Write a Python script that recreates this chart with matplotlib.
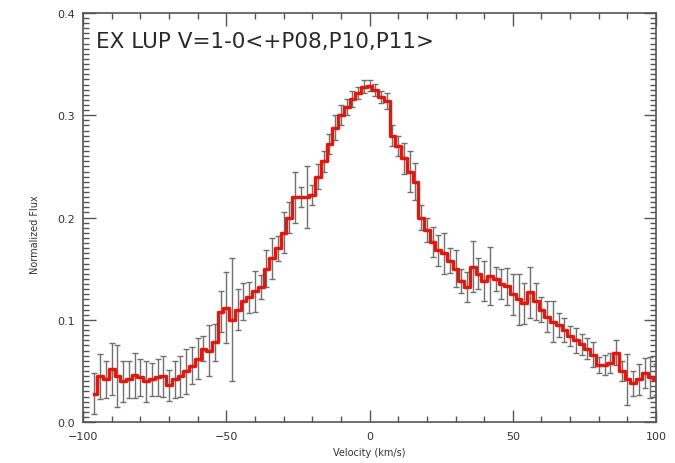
import numpy as np
import matplotlib
matplotlib.use("Agg")
import matplotlib.pyplot as plt

title = "EX LUP V=1-0<+P08,P10,P11>"
xlabel = "Velocity (km/s)"
ylabel = "Normalized Flux"
xticks = [-100, -50, 0, 50, 100]
xticklabels = ["\u2212100", "\u221250", "0", "50", "100"]
yticks = [0.0, 0.1, 0.2, 0.3, 0.4]
yticklabels = ["0.0", "0.1", "0.2", "0.3", "0.4"]

velocity = list(range(-96, 101, 2))
flux = [0.028, 0.045, 0.042, 0.052, 0.045, 0.040, 0.042, 0.046, 0.044, 0.040,
        0.042, 0.044, 0.045, 0.036, 0.042, 0.045, 0.050, 0.055, 0.062, 0.072,
        0.070, 0.078, 0.108, 0.112, 0.100, 0.110, 0.118, 0.122, 0.128, 0.132,
        0.150, 0.160, 0.170, 0.185, 0.200, 0.220, 0.220, 0.220, 0.222, 0.240,
        0.255, 0.272, 0.288, 0.300, 0.308, 0.316, 0.322, 0.328, 0.329, 0.325,
        0.318, 0.314, 0.280, 0.270, 0.258, 0.245, 0.235, 0.200, 0.188, 0.176,
        0.168, 0.165, 0.158, 0.150, 0.138, 0.132, 0.152, 0.145, 0.138, 0.143,
        0.140, 0.135, 0.133, 0.125, 0.120, 0.116, 0.127, 0.118, 0.110, 0.103,
        0.098, 0.095, 0.090, 0.084, 0.080, 0.076, 0.072, 0.066, 0.056, 0.056,
        0.058, 0.068, 0.050, 0.042, 0.038, 0.042, 0.048, 0.044, 0.042]
error = [0.020, 0.022, 0.018, 0.025, 0.030, 0.020, 0.018, 0.022, 0.018, 0.020,
         0.016, 0.018, 0.020, 0.015, 0.018, 0.020, 0.022, 0.018, 0.020, 0.012,
         0.025, 0.018, 0.020, 0.035, 0.060, 0.020, 0.018, 0.015, 0.020, 0.012,
         0.018, 0.020, 0.012, 0.020, 0.015, 0.025, 0.010, 0.030, 0.010, 0.012,
         0.010, 0.010, 0.012, 0.010, 0.008, 0.008, 0.006, 0.006, 0.005, 0.006,
         0.006, 0.008, 0.010, 0.010, 0.015, 0.020, 0.018, 0.012, 0.012, 0.015,
         0.015, 0.020, 0.012, 0.018, 0.012, 0.015, 0.025, 0.015, 0.020, 0.028,
         0.012, 0.015, 0.018, 0.020, 0.025, 0.020, 0.025, 0.018, 0.012, 0.015,
         0.020, 0.012, 0.012, 0.010, 0.012, 0.010, 0.010, 0.012, 0.008, 0.010,
         0.010, 0.012, 0.010, 0.025, 0.012, 0.015, 0.015, 0.020, 0.015]

plt.rcParams["xtick.minor.visible"] = True
plt.rcParams["ytick.minor.visible"] = True

fig = plt.figure(figsize=(6.75, 4.64), dpi=100)
ax = fig.add_axes([0.123, 0.088, 0.849, 0.882])

ax.errorbar(velocity, flux, yerr=error, fmt="none", ecolor="#707070",
            elinewidth=1.0, capsize=2.5, capthick=1.0, zorder=2)
ax.step(velocity, flux, where="mid", color="#dd1a10", lw=2.5, zorder=3)

ax.set_xlim(-100, 100)
ax.set_ylim(0.0, 0.4)
ax.set_xticks(xticks)
ax.set_xticklabels(xticklabels)
ax.set_yticks(yticks)
ax.set_yticklabels(yticklabels)
ax.set_xticks(np.arange(-100, 101, 10), minor=True)
ax.set_yticks(np.arange(0, 0.4001, 0.005), minor=True)

ax.tick_params(axis="both", which="major", direction="in", top=True, right=True,
               color="#555555", labelsize=8, labelcolor="#333333",
               length=9, width=1.0, pad=6)
ax.tick_params(axis="both", which="minor", direction="in", top=True, right=True,
               color="#555555", length=4.5, width=1.0)
for s in ax.spines.values():
    s.set_color("#555555")
    s.set_linewidth(1.2)

ax.set_xlabel(xlabel, fontsize=7, color="#333333", labelpad=5)
ax.set_ylabel(ylabel, fontsize=7, color="#333333")
ax.yaxis.set_label_coords(-0.075, 0.46)
ax.text(0.022, 0.955, title, transform=ax.transAxes, fontsize=15.5,
        color="#2a2a2a", va="top", ha="left")

fig.savefig("out.png", dpi=100)
